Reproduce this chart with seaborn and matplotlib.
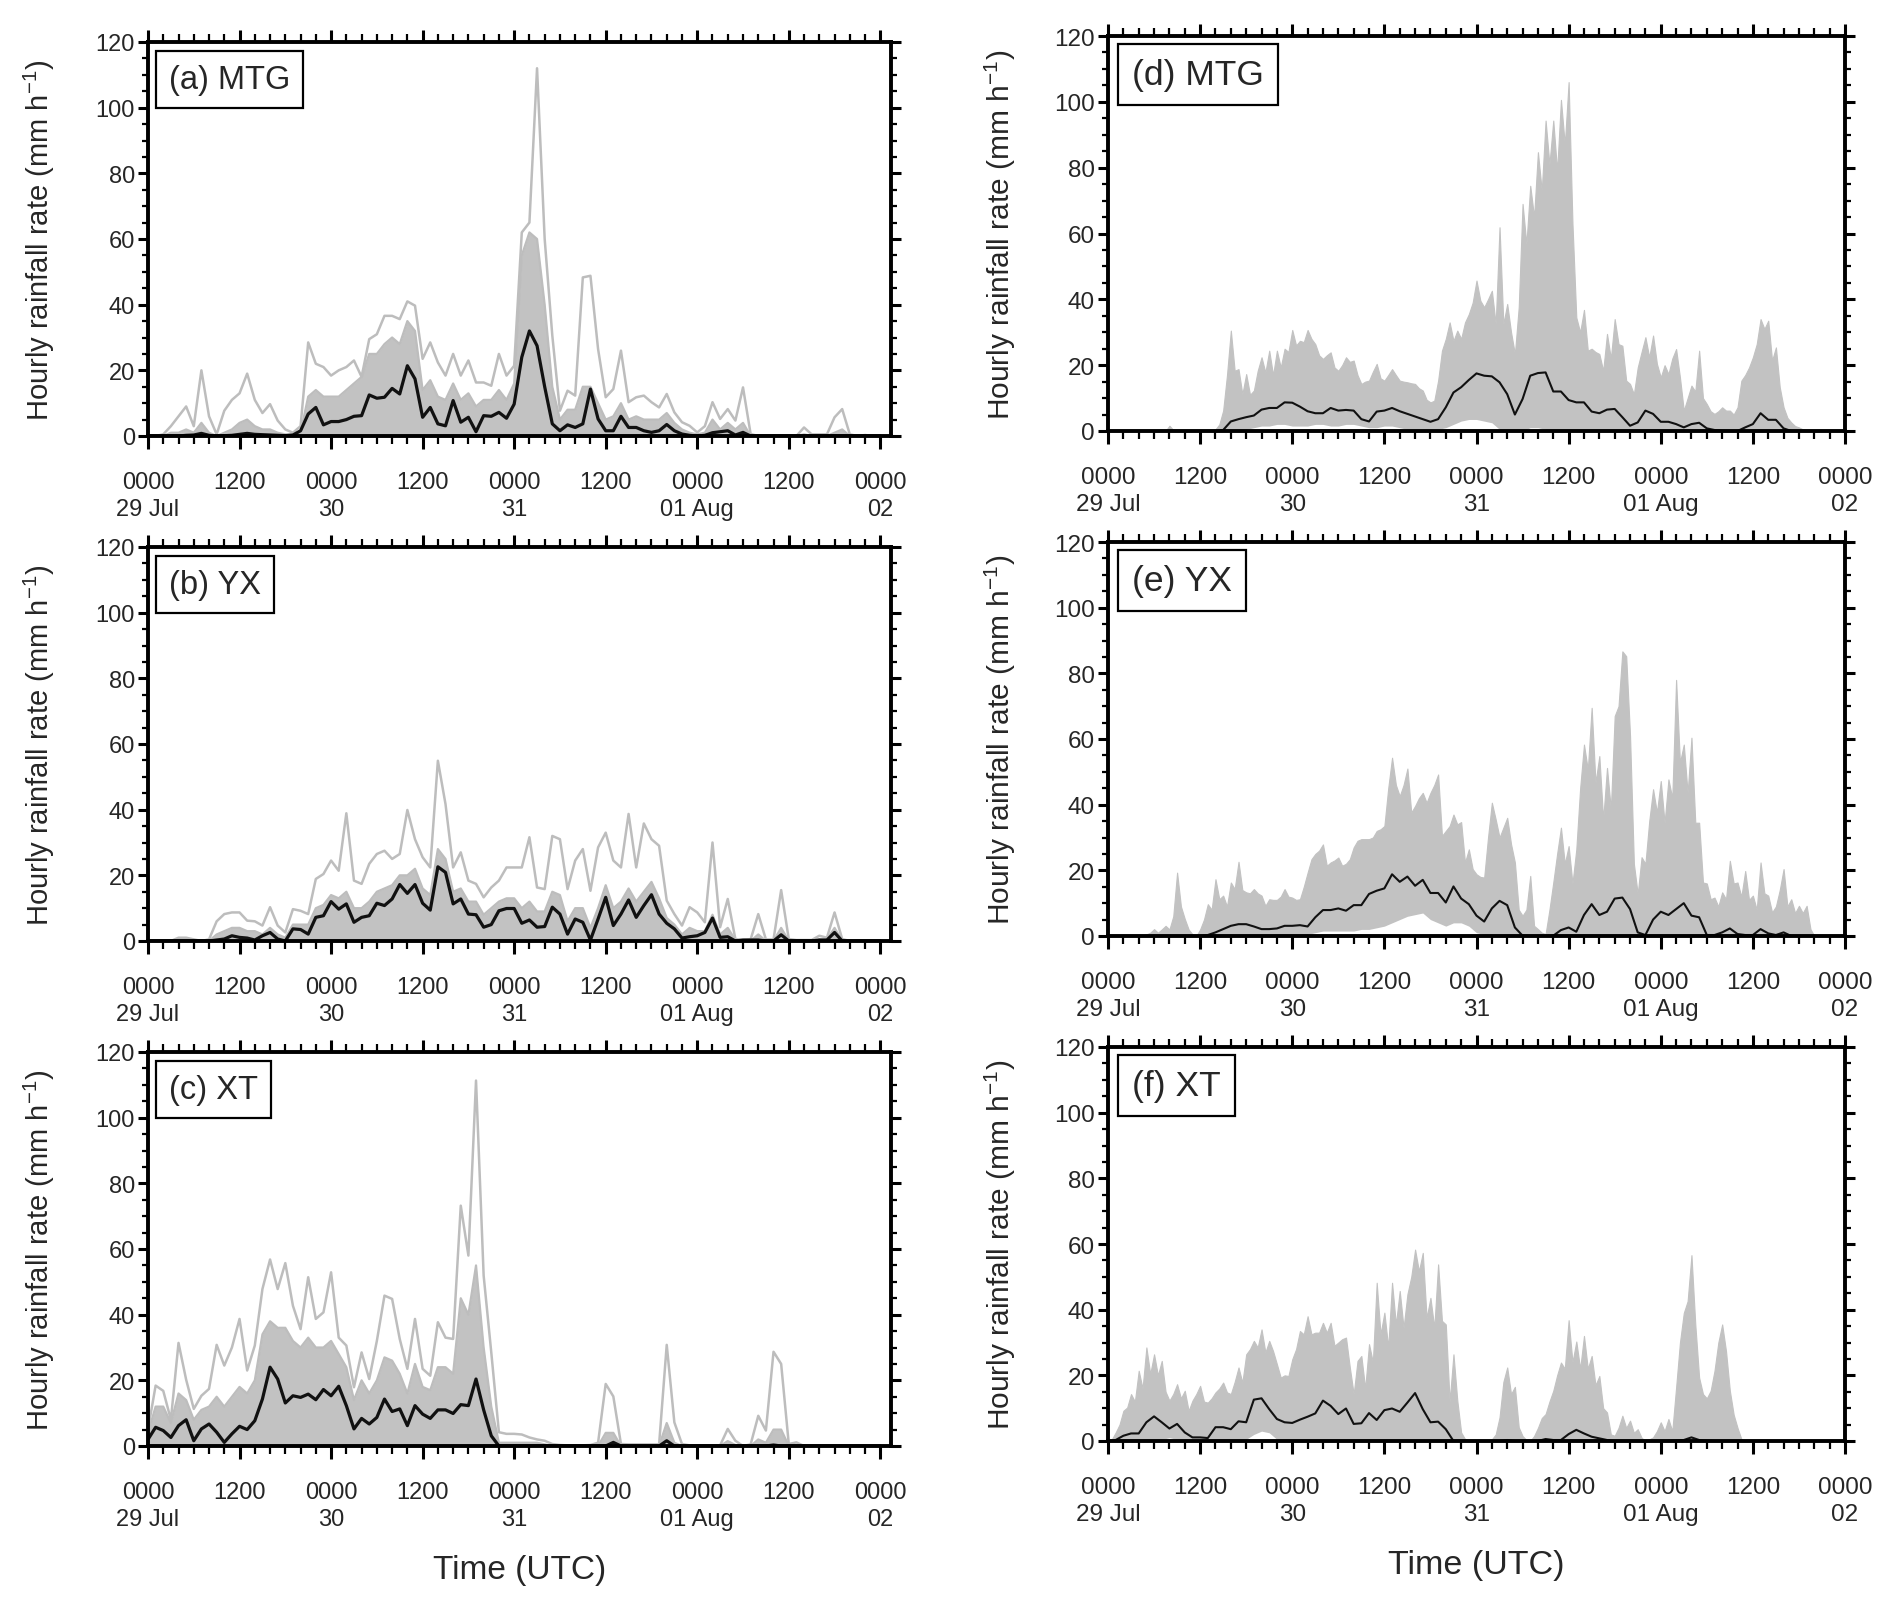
import numpy as np
import matplotlib
matplotlib.use("Agg")
import matplotlib.pyplot as plt
import seaborn as sns
from matplotlib.ticker import MultipleLocator
from matplotlib.transforms import offset_copy

# ---------------- data ----------------
tick_labels = ["0000\n29 Jul", "1200", "0000\n30", "1200", "0000\n31",
               "1200", "0000\n01 Aug", "1200", "0000\n02"]
panel_titles = ["(a) MTG", "(b) YX", "(c) XT", "(d) MTG", "(e) YX", "(f) XT"]

# hourly values, hour 0 .. 96 (0000 UTC 29 Jul .. 0000 UTC 02 Aug)
a_mean = [0, 0, 0, 0, 0, 0.2, 0.3, 0.8, 0.2, 0,
          0.1, 0.2, 0.5, 0.8, 0.5, 0.4, 0.3, 0.2, 0.1, 0.3,
          1.6, 6.7, 8.7, 3.4, 4.4, 4.4, 5, 6, 6.2, 12.5,
          11.5, 11.8, 14.5, 12.8, 21.4, 17.4, 5.7, 8.7, 3.7, 3.1,
          10.8, 4.2, 5.7, 1.3, 6.2, 6, 7.2, 5.4, 9.7, 24,
          32, 27.5, 15, 3.7, 1.6, 3.4, 2.6, 3.7, 14.3, 5.2,
          1.6, 1.6, 6, 2.6, 2.6, 1.6, 1.1, 1.6, 3.5, 1.6,
          0.6, 0.2, 0, 0.2, 1, 1.3, 1.6, 0.3, 1.1, 0,
          0, 0, 0, 0, 0, 0, 0, 0, 0, 0,
          0, 0, 0, 0, 0, 0, 0]
a_max = [0, 0, 0.5, 3, 6, 9, 3, 20, 6, 0.5,
         7.7, 11, 13, 19, 11, 7, 9.7, 4.7, 2, 1,
         3, 28.5, 22, 21, 18.4, 20, 21, 23, 18, 29.5,
         31, 36.6, 36.6, 35.6, 41, 39.7, 23.5, 28.5, 22.4, 18.4,
         25, 18.4, 23, 16.3, 16.3, 15.3, 25, 18.4, 21.4, 62,
         65, 112, 60, 30.6, 7.7, 13.8, 12.3, 48.3, 48.8, 26.5,
         11.8, 14.3, 26, 10.3, 11.8, 12.3, 10.3, 8.7, 12.8, 7.2,
         4.2, 3.1, 1.1, 3, 10.3, 5.2, 8.2, 4.7, 14.8, 0.6,
         0, 0, 0, 0, 0, 0, 2.6, 0.5, 0.5, 0.5,
         5.7, 8.2, 0.5, 0, 0.3, 0, 0]
a_dense = [0, 0, 0, 1, 1, 2, 1, 4, 1, 0,
           1, 2, 4, 5, 3, 2, 2, 1, 0.5, 0.5,
           1, 12, 14, 12, 12, 12, 14, 16, 18, 25,
           25, 28, 30, 28, 35, 32, 14, 17, 12, 11,
           16, 11, 13, 9, 11, 11, 14, 11, 16, 55,
           62, 60, 40, 15, 5, 8, 8, 15, 15, 10,
           5, 6, 10, 5, 6, 5, 5, 5, 7, 4,
           2, 1, 0.5, 1, 5, 2, 4, 2, 4, 0,
           0, 0, 0, 0, 0, 0, 0.5, 0, 0, 0,
           1, 2, 0, 0, 0, 0, 0]

b_mean = [0, 0, 0, 0, 0, 0, 0, 0, 0, 0.3,
          0.6, 1.6, 1.1, 0.9, 0.3, 1.6, 2.6, 0.6, 0, 3.7,
          3.5, 2.1, 7.2, 7.7, 12, 9.7, 11.3, 5.7, 7.2, 7.7,
          11.5, 10.8, 12.8, 17.2, 14.5, 17.2, 11.5, 9.4, 22.6, 20.9,
          11.3, 12.8, 8.2, 8, 4.2, 5, 9.2, 9.9, 9.9, 5.4,
          6.4, 4.2, 4.4, 10.3, 8.2, 2.1, 6.7, 5.7, 0.3, 6.7,
          13.3, 4.7, 8.2, 12.5, 7.2, 10.8, 14.1, 8.2, 5.4, 3.7,
          0.9, 1.3, 1.6, 2.6, 7, 1.1, 1.3, 0, 0.3, 0.3,
          0.3, 0, 0, 1.9, 0, 0, 0, 0, 0.3, 0.3,
          2.6, 0, 0, 0, 0, 0, 0]
b_max = [0, 0, 0, 0, 1, 1, 0.5, 0, 0.5, 6,
         8.2, 8.7, 8.7, 6.2, 6, 4.7, 10.3, 4.7, 2.6, 9.7,
         9.2, 8.2, 18.9, 20.4, 24.5, 21.4, 38.9, 18.4, 17.4, 23.5,
         26.5, 27.5, 25, 26.5, 39.9, 31, 25.5, 22.4, 54.9, 41.7,
         22.4, 27, 18.4, 17.4, 13.3, 16.3, 18.4, 22.4, 22.4, 22.4,
         31.6, 16.3, 15.8, 32, 31, 15.8, 24.5, 28, 15.3, 28.5,
         33, 24.5, 22.4, 38.7, 22.4, 35.8, 31, 29, 12.3, 8.2,
         4.7, 10.3, 8.7, 5.7, 30, 4.2, 12.8, 0.6, 0.3, 0.5,
         8.2, 0.5, 0.5, 15.5, 0.6, 0.3, 0.3, 0.3, 1.6, 1,
         8.7, 0.6, 0, 0, 0, 0, 0]
b_dense = [0, 0, 0, 0, 0.5, 0.5, 0, 0, 0, 2,
           3, 4, 4, 3, 3, 2, 4, 2, 1, 5,
           5, 5, 10, 11, 14, 13, 15, 10, 10, 12,
           15, 16, 17, 20, 20, 22, 16, 14, 28, 25,
           15, 16, 12, 12, 8, 10, 12, 13, 13, 10,
           12, 9, 9, 15, 14, 6, 10, 10, 4, 10,
           17, 10, 12, 16, 12, 15, 18, 13, 7, 5,
           2, 4, 3, 3, 8, 2, 4, 0.3, 0, 0,
           2, 0, 0, 4, 0, 0, 0, 0, 0.5, 0.5,
           4, 0, 0, 0, 0, 0, 0]

c_mean = [2, 5.7, 4.7, 2.6, 6.2, 8, 1.6, 5.2, 6.7, 4.2,
          1.1, 3.7, 6, 5, 7.7, 14.3, 24, 20.4, 13.1, 15.3,
          14.8, 15.8, 14.1, 17.2, 15.3, 18.2, 12.3, 5.2, 8.4, 6.7,
          8.7, 14.3, 10.5, 11.3, 6.2, 12.3, 9.7, 8.4, 11, 11,
          9.9, 12.6, 12.3, 20.4, 11, 3.1, 0, 0, 0, 0,
          0, 0, 0, 0, 0, 0, 0, 0, 0, 0,
          0, 1.1, 0, 0, 0, 0, 0, 0, 1.6, 0,
          0, 0, 0, 0, 0, 0, 0, 0, 0, 0,
          0, 0, 0.3, 0, 0, 0, 0, 0, 0, 0,
          0, 0, 0, 0, 0, 0, 0]
c_max = [5, 18.4, 16.8, 8, 31.4, 20.2, 11.3, 15.3, 17.4, 30.8,
         24.5, 30, 38.7, 23, 30.6, 47.8, 56.8, 47.8, 55.7, 42.7,
         35.6, 51.4, 38.7, 40.7, 52.9, 33, 30.6, 17.9, 28.5, 20.4,
         32, 45.8, 44.8, 32.6, 23.5, 38.7, 23.5, 21.4, 37.7, 33,
         32.6, 73.2, 58, 111.3, 51.9, 28.5, 4.2, 3.7, 3.7, 3.5,
         2.6, 2, 1.6, 0.6, 0.3, 0.2, 0.2, 0.2, 0.3, 1,
         18.9, 15.1, 0.6, 0.5, 0.5, 0.5, 0.5, 0.5, 30.8, 7.2,
         0.6, 0.2, 0.2, 0.2, 0.2, 0.2, 5.2, 1.6, 0, 0.5,
         9.2, 4.7, 28.7, 25, 0.6, 1.1, 0, 0, 0, 0,
         0, 0, 0, 0, 0, 0, 0]
c_dense = [4, 12, 12, 7, 16, 14, 8, 11, 12, 15,
           12, 15, 18, 16, 20, 34, 38, 36, 36, 32,
           30, 33, 30, 30, 32, 28, 24, 14, 20, 16,
           20, 27, 26, 22, 16, 25, 18, 17, 24, 24,
           22, 45, 40, 55, 30, 12, 1, 1, 1, 1,
           1, 1, 0.5, 0, 0, 0, 0, 0, 0, 0,
           4, 4, 0, 0, 0, 0, 0, 0, 7, 1,
           0, 0, 0, 0, 0, 0, 1.5, 0.3, 0, 0,
           2, 1, 5, 5, 0, 0, 0, 0, 0, 0,
           0, 0, 0, 0, 0, 0, 0]

# half-hourly ensemble maximum, hour 0.0 .. 96.0 (right column)
d_max = [0, 0, 0, 0, 0, 0, 0, 0, 0, 0,
         0, 0, 0, 0, 0, 0, 1.6, 0.3, 0, 0,
         0, 0, 0, 0, 0, 0, 0, 0, 0.5, 2,
         6.2, 17, 30.5, 18.3, 18.8, 11.2, 17.3, 11, 12.3, 18.3,
         22.4, 17.8, 24.4, 17, 24.4, 19.3, 25, 24, 30.7, 26,
         27.4, 27, 30.7, 28, 26.4, 23, 21.9, 23, 23.9, 19.3,
         18.3, 20, 22.4, 21, 21.4, 17, 14.3, 15, 15.3, 18,
         20.4, 16, 15.3, 17, 18.8, 17, 15.3, 15, 14.8, 14.5,
         14.3, 13, 12.3, 9.5, 8.7, 9.2, 15.3, 24.4, 28, 33,
         27.4, 30.5, 28, 33, 35.5, 39, 45.7, 39.6, 37.6, 40,
         42.6, 32.5, 61.9, 32.5, 38.6, 30, 23.4, 37.6, 69, 56.8,
         74.5, 65, 84.7, 73, 94.3, 81, 94.3, 79, 100.6, 87,
         106, 63, 34.5, 30, 36.8, 24.4, 25, 24, 23.4, 18.3,
         29.5, 22, 34, 26.4, 25.9, 15.3, 14.3, 11.2, 19.3, 24,
         28.5, 22.4, 29, 20.4, 16.3, 20, 17.3, 22, 24.9, 16.3,
         6.2, 10, 13.8, 12, 24.4, 10, 8.2, 6, 5.2, 6,
         7.2, 6.2, 6.2, 5, 7.2, 15.3, 17, 19.3, 22.4, 26.4,
         34, 31, 33.5, 21.4, 25.4, 13.3, 7.2, 4, 2.6, 1.5,
         1.1, 0.5, 0.2, 0, 0, 0, 0, 0, 0, 0,
         0, 0, 0]
e_max = [0, 0, 0, 0, 0, 0, 0, 0, 0, 0,
         0.5, 1, 2.1, 1, 2, 3.1, 2, 6, 19.3, 9,
         5.2, 2, 0.5, 0, 2, 5, 9.7, 8, 17.3, 11.2,
         12.3, 9, 16.3, 14.3, 22.6, 14, 13.3, 13, 14.3, 13,
         12.3, 9.2, 11.2, 11, 11, 12, 14.3, 12, 11.7, 11,
         11.2, 15, 19.3, 23.4, 25, 26, 27.9, 21.4, 22.4, 23,
         23.9, 21.4, 22, 23.4, 27, 29, 29.5, 29.5, 29.5, 30,
         32, 32.5, 33.5, 45, 54.3, 46, 42.6, 46, 51, 37.6,
         39.6, 42, 43.6, 40.6, 43.6, 46, 49.2, 30.5, 32, 33.5,
         37, 34, 34.7, 22.4, 26.4, 20.4, 18.8, 18, 17.8, 30,
         40.6, 35.5, 30, 33, 36, 28, 22.4, 8, 6.2, 8,
         18.3, 3.1, 2.1, 1, 0.6, 8, 16.3, 25, 33, 22,
         27.4, 16, 26.4, 45, 58.3, 50.7, 69.5, 46.7, 54.8, 35.5,
         51.2, 38.6, 67, 70, 86.7, 85.2, 61, 22, 12.8, 24,
         22, 35, 44.7, 37.6, 47.2, 34.5, 47.7, 42, 78, 52.8,
         58.3, 43.6, 60.4, 34.5, 34.5, 16.3, 16, 11.2, 11.7, 9,
         13.3, 11.2, 22.9, 16, 16.3, 12, 19.8, 11, 12.3, 8,
         22.4, 13, 12.3, 7.2, 9, 14, 20.4, 9, 11.2, 7,
         9.2, 7, 9.2, 2.1, 0, 0, 0, 0, 0, 0,
         0, 0, 0]
f_max = [0, 0.5, 2.6, 5, 9.2, 10.2, 14.3, 12, 21.4, 16,
         28.5, 20.4, 26.4, 20, 24.4, 15, 12.3, 14.3, 17.3, 13,
         15.3, 9.2, 12.3, 14.3, 16.8, 12, 11.7, 13, 14.8, 16,
         17.8, 14.8, 14.3, 18, 22.4, 17.8, 26.4, 28, 30.5, 28.5,
         34, 27, 30.5, 27.4, 23.4, 19.3, 20, 19.8, 24.9, 28,
         33.5, 32.5, 38, 32.5, 33, 33, 36, 33, 36, 29,
         30, 31, 31.5, 22.4, 14.3, 24.4, 25.9, 16, 29.5, 24,
         48.2, 32.5, 39.1, 28.5, 48.2, 35.5, 45.7, 34.5, 44.7, 50,
         58.3, 51.7, 57.3, 37.5, 43.6, 34.5, 53.8, 36.6, 35.5, 12,
         26.4, 12.3, 2.6, 0.6, 0.2, 0.2, 0.2, 0.2, 0.2, 0.2,
         0.5, 2, 7.2, 18, 22.4, 14.3, 16.5, 4.2, 1.5, 0.3,
         0, 1.5, 4, 7, 8.2, 12, 15.3, 20, 23.9, 22,
         36.8, 24, 30.3, 22, 32, 22, 25.9, 17, 19.8, 10,
         8.7, 2, 1.6, 4, 7.7, 4, 6.2, 2.5, 3.6, 1,
         0, 0.5, 1.1, 3, 5.7, 3, 6.7, 3, 16.3, 30,
         39, 42.6, 56.6, 35.5, 19.3, 14.3, 13, 15.3, 21.4, 30,
         35.5, 27.4, 15.3, 8, 4, 0.6, 0, 0, 0, 0,
         0, 0, 0, 0, 0, 0, 0, 0, 0, 0,
         0, 0, 0, 0, 0, 0, 0, 0, 0, 0,
         0, 0, 0]

# hourly ensemble minimum and ensemble mean (right column)
d_min = [0, 0, 0, 0, 0, 0, 0, 0, 0, 0,
         0, 0, 0, 0, 0, 0, 0, 0, 0.5, 1,
         1.5, 1.5, 2, 2, 1.5, 1.5, 1.5, 2, 2, 1.5,
         1.5, 2, 2, 1.5, 1, 1, 1.5, 1.5, 1, 0.5,
         0.5, 0.5, 0, 0.5, 1, 2, 3, 3.5, 3.5, 3,
         2.5, 0.5, 0, 0, 0, 1, 1, 0.5, 0, 0,
         0, 0, 0, 0, 0, 0, 0, 0, 0, 0,
         0, 0, 0, 0, 0, 0, 0, 0, 0, 0,
         0, 0, 0, 0, 0, 0, 0, 0, 0, 0,
         0, 0, 0, 0, 0, 0, 0]
d_mean = [0, 0, 0, 0, 0, 0, 0, 0, 0, 0,
          0, 0, 0, 0, 0, 0.3, 2.9, 3.6, 4.2, 4.7,
          6.5, 7, 7, 8.7, 8.6, 7.4, 6, 5.4, 5.4, 7,
          6.2, 6.4, 6.2, 3.6, 2.9, 5.9, 6.2, 7, 6, 5.2,
          4.4, 3.6, 2.8, 3.6, 7.2, 11.7, 13.3, 15.5, 17.5, 16.8,
          16.6, 14.8, 11.2, 5, 9.7, 16.8, 17.6, 17.8, 12, 12,
          9.4, 8.7, 8.7, 5.9, 5.4, 6.5, 6.7, 4.2, 1.6, 2.6,
          6.2, 5.2, 2.8, 2.8, 2.1, 1.1, 2.1, 2.5, 0.8, 0.3,
          0.1, 0, 0, 1.1, 2.1, 5.4, 3.4, 3.4, 0.8, 0,
          0, 0, 0, 0, 0, 0, 0]
e_min = [0, 0, 0, 0, 0, 0, 0, 0, 0, 0,
         0, 0, 0, 0, 0, 0, 0, 0, 0, 0,
         0, 0, 0, 0, 0, 0, 0.5, 1, 1.5, 1.5,
         1.5, 1.5, 1.5, 2, 2, 2.5, 3, 4, 5, 6,
         6.5, 7, 5, 4, 3, 4, 4, 3, 1, 0.5,
         0, 0, 0, 0, 0, 0, 0, 0, 0, 0,
         0, 0, 0, 0, 0, 0, 0, 0, 0, 0,
         0, 0, 0, 0, 0, 0, 0, 0, 0, 0,
         0, 0, 0, 0, 0, 0, 0, 0, 0, 0,
         0, 0, 0, 0, 0, 0, 0]
e_mean = [0, 0, 0, 0, 0, 0, 0, 0, 0, 0,
          0, 0, 0, 0.3, 1.1, 2.1, 3.1, 3.6, 3.6, 2.9,
          2.1, 2.1, 2.3, 3.1, 3.1, 3.3, 2.9, 5.7, 7.9, 7.9,
          8.4, 7.7, 9.4, 9.4, 12.8, 13.8, 14.5, 18.8, 16.5, 18.1,
          15.3, 17.1, 13.1, 13.1, 10.2, 15.1, 11.4, 9.7, 6.2, 4.4,
          8.4, 10.7, 9.4, 2.6, 0.1, 0, 0, 0, 0.1, 1.8,
          2.6, 1.3, 6.4, 9.7, 6.4, 7.4, 11.4, 11.7, 8.2, 1.1,
          0.3, 5, 7.4, 6.4, 8.2, 10, 6.2, 5.7, 0.3, 0.3,
          1.1, 2.3, 0.6, 0.3, 0.3, 2.1, 0.8, 0.3, 1.1, 0,
          0, 0, 0, 0, 0, 0, 0]
f_min = [0, 0, 0, 0, 0, 0, 0, 0.5, 1, 0.5,
         0, 0, 0, 0, 0, 0, 0, 0, 0.5, 2,
         3, 2.5, 0.5, 0, 0, 0, 0, 0, 0, 0,
         0, 0, 0, 0, 0, 0, 0, 0, 0, 0,
         0, 0, 0, 0, 0, 0, 0, 0, 0, 0,
         0, 0, 0, 0, 0, 0, 0, 0, 0, 0,
         0, 0, 0, 0, 0, 0, 0, 0, 0, 0,
         0, 0, 0, 0, 0, 0, 0, 0, 0, 0,
         0, 0, 0, 0, 0, 0, 0, 0, 0, 0,
         0, 0, 0, 0, 0, 0, 0]
f_mean = [0, 0.3, 1.6, 2.3, 2.3, 5.7, 7.5, 5.7, 3.8, 5.2,
          2.6, 1.1, 1.1, 0.9, 4.2, 4.2, 3.6, 6, 5.7, 12.6,
          13, 9.7, 6.7, 5.7, 5.5, 6.5, 7.4, 8.4, 12.3, 10.7,
          8.2, 9.9, 5.2, 5.4, 8.5, 6.4, 9.4, 9.9, 8.9, 11.7,
          14.6, 9.7, 5.7, 5.9, 3.6, 0, 0, 0, 0, 0,
          0, 0, 0.3, 0, 0, 0, 0, 0.6, 0.3, 0.3,
          2.1, 3.4, 2.3, 1.3, 0.8, 0.3, 0, 0, 0, 0,
          0, 0, 0, 0, 0.2, 0.3, 1.1, 0.3, 0.1, 0,
          0, 0, 0, 0, 0, 0, 0, 0, 0, 0,
          0, 0, 0, 0, 0, 0, 0]

hours = np.arange(len(a_mean), dtype=float)            # 0 .. 96 h
half_hours = np.arange(len(d_max), dtype=float) * 0.5   # 0 .. 96 h

# ---------------- styling ----------------
sns.set_theme(style="ticks")
plt.rcParams['font.family'] = ['Liberation Sans', 'DejaVu Sans']
plt.rcParams['mathtext.fontset'] = 'custom'
plt.rcParams['mathtext.rm'] = 'Liberation Sans'
plt.rcParams['mathtext.it'] = 'Liberation Sans:italic'
plt.rcParams['mathtext.default'] = 'regular'

GRAY_LINE = '#bdbdbd'
GRAY_FILL = '#c2c2c2'
W, H = 1892, 1608

fig = plt.figure(figsize=(W / 100, H / 100), dpi=100)
fig.patch.set_facecolor('white')


def px_axes(left, top, right, bottom):
    return fig.add_axes([left / W, 1 - bottom / H, (right - left) / W, (bottom - top) / H])


def style(ax, xmax, title, fs_tick, fs_title, box_dx, box_dy):
    ax.set_facecolor('white')
    ax.set_xlim(0, xmax)
    ax.set_ylim(0, 120)
    ax.set_xticks(np.arange(0, 97, 12))
    ax.set_xticklabels(tick_labels, linespacing=1.33)
    ax.xaxis.set_minor_locator(MultipleLocator(2))
    ax.set_yticks(np.arange(0, 121, 20))
    ax.yaxis.set_minor_locator(MultipleLocator(5))
    ax.tick_params(which='both', direction='out', top=True, right=True,
                   bottom=True, left=True, labeltop=False, labelright=False,
                   color='black')
    ax.tick_params(axis='x', which='major', length=9, width=2.2, labelsize=fs_tick, pad=16)
    ax.tick_params(axis='x', which='minor', length=5.5, width=1.6)
    ax.tick_params(axis='y', which='major', length=7, width=2.2, labelsize=fs_tick, pad=2.5)
    ax.tick_params(axis='y', which='minor', length=4.5, width=1.6)
    for s in ax.spines.values():
        s.set_visible(True)
        s.set_linewidth(2.8)
        s.set_color('black')
        s.set_zorder(5)
    ax.set_xlabel('')
    ax.set_ylabel('')
    pad_pts = 0.4 * fs_title
    tr = offset_copy(ax.transAxes, fig=fig, x=box_dx * 0.72 + pad_pts,
                     y=-(box_dy * 0.72 + pad_pts), units='points')
    ax.text(0, 1, title, transform=tr, ha='left', va='top',
            fontsize=fs_title, zorder=6,
            bbox=dict(boxstyle='square,pad=0.4', fc='white', ec='black', lw=1.6))


left_boxes = [(148, 43, 891, 437), (148, 548, 891, 942), (148, 1053, 891, 1447)]
right_boxes = [(1108, 37, 1845, 432), (1108, 543, 1845, 937), (1108, 1048, 1845, 1442)]

left_sets = [(a_max, a_dense, a_mean), (b_max, b_dense, b_mean), (c_max, c_dense, c_mean)]
right_sets = [(d_max, d_min, d_mean), (e_max, e_min, e_mean), (f_max, f_min, f_mean)]

ylab = 'Hourly rainfall rate (mm h$^{-1}$)'

for i, (box, (vmax, vdense, vmean)) in enumerate(zip(left_boxes, left_sets)):
    ax = px_axes(*box)
    ax.fill_between(hours, 0, vdense, color=GRAY_FILL, lw=0, zorder=1)
    sns.lineplot(x=hours, y=vdense, ax=ax, color=GRAY_LINE, linewidth=1.6, zorder=2)
    sns.lineplot(x=hours, y=vmax, ax=ax, color=GRAY_LINE, linewidth=1.8, zorder=2)
    sns.lineplot(x=hours, y=vmean, ax=ax, color='#111111', linewidth=2.3, zorder=3)
    style(ax, 97.4, panel_titles[i], 17, 23.5, 8, 9)
    cy = 1 - (box[1] + box[3]) / 2 / H
    fig.text(39 / W, cy, ylab, rotation=90, ha='center', va='center', fontsize=21)

for i, (box, (vmax, vmin, vmean)) in enumerate(zip(right_boxes, right_sets)):
    ax = px_axes(*box)
    ax.fill_between(half_hours, 0, vmax, color=GRAY_FILL, lw=0.8, edgecolor=GRAY_FILL, zorder=1)
    ax.fill_between(hours, 0, vmin, color='white', lw=0, zorder=1.5)
    sns.lineplot(x=hours, y=vmean, ax=ax, color='#111111', linewidth=1.5, zorder=3)
    style(ax, 96, panel_titles[3 + i], 17.5, 25.5, 10, 8)
    cy = 1 - (box[1] + box[3]) / 2 / H
    fig.text(1000 / W, cy, ylab, rotation=90, ha='center', va='center', fontsize=21.5)

fig.text((148 + 891) / 2 / W, 1 - 1571 / H, 'Time (UTC)', ha='center', va='center', fontsize=24)
fig.text((1108 + 1845) / 2 / W, 1 - 1566 / H, 'Time (UTC)', ha='center', va='center', fontsize=24.5)

fig.savefig('out.png', dpi=100, facecolor='white')
